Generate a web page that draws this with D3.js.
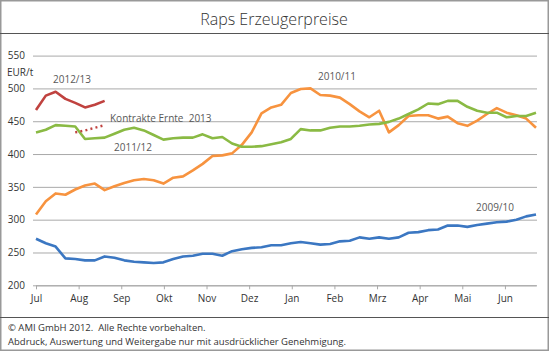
<!DOCTYPE html>
<html>
<head>
<meta charset="utf-8">
<script src="https://cdn.jsdelivr.net/npm/d3@7"></script>
<style>
  body { margin: 0; background: #fff; }
  svg { display: block; font-family: 'Open Sans', sans-serif; }
  text { white-space: pre; }
</style>
</head>
<body>
<div id="chart"></div>
<script>
const months = ['Jul', 'Aug', 'Sep', 'Okt', 'Nov', 'Dez', 'Jan', 'Feb', 'Mrz', 'Apr', 'Mai', 'Jun']
const yTicks = [200, 250, 300, 350, 400, 450, 500, 550]

// weekly prices, EUR/t, week 0 = start of July
const s0910 = [271, 264, 259, 241, 240, 238, 238, 244, 242, 238, 236, 235, 234, 235, 240, 244, 245, 248,
  248, 245, 252, 255, 257, 258, 261, 261, 264, 266, 264, 262, 263, 267, 268, 273, 271, 273, 271, 273,
  280, 281, 284, 285, 291, 291, 289, 292, 294, 296, 297, 300, 305, 308]
const s1011 = [308, 328, 340, 338, 346, 352, 355, 345, 351, 356, 360, 362, 360, 355, 364, 366, 375, 385,
  397, 398, 401, 414, 433, 462, 471, 475, 493, 499, 500, 490, 489, 486, 476, 465, 456, 466, 433, 444,
  458, 459, 459, 454, 457, 447, 443, 451, 461, 470, 463, 459, 454, 440]
const s1112 = [433, 437, 444, 443, 442, 423, 424, 425, 431, 437, 440, 436, 429, 422, 424, 425, 425, 430,
  424, 426, 416, 411, 411, 412, 415, 418, 423, 438, 436, 436, 440, 442, 442, 443, 445, 446, 449, 454,
  461, 468, 477, 476, 481, 481, 472, 466, 463, 463, 456, 458, 458, 463]
const s1213 = [467, 489, 495, 484, 478, 471, 475, 481]
const kontraktWeeks = [4, 5, 6, 7]
const kontrakt = [433, 436, 440, 444]

const width = 549, height = 351
const svg = d3.select('#chart').append('svg').attr('width', width).attr('height', height)

// frame
svg.append('rect').attr('x', 0.75).attr('y', 0.75).attr('width', width - 1.5).attr('height', height - 1.5)
  .attr('fill', 'none').attr('stroke', '#999').attr('stroke-width', 1.5)
svg.append('line').attr('x1', 0).attr('x2', width).attr('y1', 33.5).attr('y2', 33.5)
  .attr('stroke', '#555').attr('stroke-width', 1.2)
svg.append('line').attr('x1', 0).attr('x2', width).attr('y1', 317.5).attr('y2', 317.5)
  .attr('stroke', '#555').attr('stroke-width', 1.2)

svg.append('text').attr('x', 274).attr('y', 24.5).attr('text-anchor', 'middle')
  .attr('font-size', 16).attr('font-weight', 300).attr('fill', '#333').text('Raps Erzeugerpreise')

const weeksPerMonth = 365.25 / 7 / 12
const x = d3.scaleLinear().domain([0, 51]).range([36, 536])
const y = d3.scaleLinear().domain([200, 550]).range([285.3, 55.6])

// y axis + grid
const yAxis = svg.append('g').attr('transform', 'translate(33,0)')
  .call(d3.axisLeft(y).tickValues(yTicks).tickSize(-(537 - 33)).tickPadding(8))
yAxis.select('.domain').remove()
yAxis.selectAll('line').attr('stroke', '#a9a9a9')
yAxis.selectAll('text').attr('font-size', 10).attr('fill', '#333').attr('font-family', 'Open Sans')

svg.append('text').attr('x', 7).attr('y', 76).attr('font-size', 10).attr('fill', '#333').text('EUR/t')

// x axis
const xAxis = svg.append('g').attr('transform', `translate(0,${y(200)})`)
  .call(d3.axisBottom(x).tickValues(months.map((m, i) => i * weeksPerMonth))
    .tickFormat((d, i) => months[i]).tickSize(4).tickSizeOuter(0).tickPadding(6))
xAxis.select('.domain').attr('stroke', '#a9a9a9')
xAxis.selectAll('line').attr('stroke', '#a9a9a9')
xAxis.selectAll('text').attr('font-size', 10).attr('fill', '#333').attr('font-family', 'Open Sans')

const line = d3.line().x((d, i) => x(i)).y(d => y(d))
const series = [
  { values: s0910, color: '#3b77c2' },
  { values: s1011, color: '#f7933f' },
  { values: s1112, color: '#8aba44' },
  { values: s1213, color: '#c0423f' }
]
svg.selectAll('.series').data(series).enter().append('path')
  .attr('class', 'series')
  .attr('d', d => line(d.values))
  .attr('fill', 'none')
  .attr('stroke', d => d.color)
  .attr('stroke-width', 2.6)
  .attr('stroke-linejoin', 'round')

svg.append('path')
  .attr('d', d3.line().x((d, i) => x(kontraktWeeks[i])).y(d => y(d))(kontrakt))
  .attr('fill', 'none').attr('stroke', '#c0423f').attr('stroke-width', 2.4)
  .attr('stroke-dasharray', '2,3.2')

// series labels
const labels = [
  { text: '2012/13', x: 53, y: 83 },
  { text: 'Kontrakte Ernte  2013', x: 110, y: 122 },
  { text: '2011/12', x: 114, y: 151 },
  { text: '2010/11', x: 318, y: 80 },
  { text: '2009/10', x: 476, y: 210.5 }
]
svg.selectAll('.lbl').data(labels).enter().append('text')
  .attr('class', 'lbl')
  .attr('x', d => d.x).attr('y', d => d.y)
  .attr('font-size', 10).attr('fill', '#595959')
  .text(d => d.text)

// footer
svg.append('text').attr('x', 8).attr('y', 330.5).attr('font-size', 9.5).attr('fill', '#333')
  .text('© AMI GmbH 2012.  Alle Rechte vorbehalten.')
svg.append('text').attr('x', 8).attr('y', 345).attr('font-size', 9.5).attr('fill', '#333')
  .text('Abdruck, Auswertung und Weitergabe nur mit ausdrücklicher Genehmigung.')
</script>
</body>
</html>
